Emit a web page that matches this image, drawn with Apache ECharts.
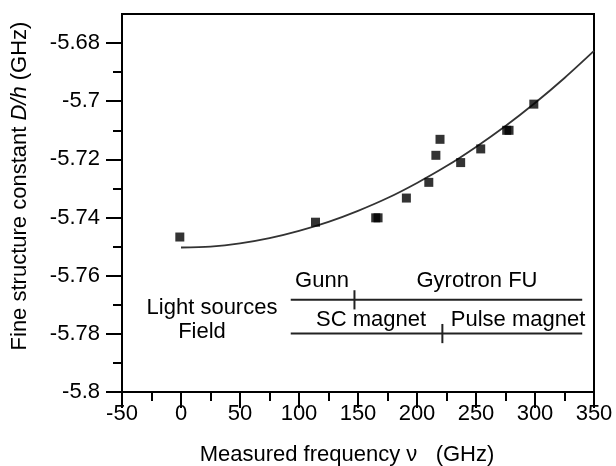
<!DOCTYPE html>
<html>
<head>
<meta charset="utf-8">
<script src="https://cdn.jsdelivr.net/npm/echarts@6/dist/echarts.min.js"></script>
<style>html,body{margin:0;padding:0;background:#fff}#c{width:616px;height:466px}</style>
</head>
<body>
<div id="c"></div>
<script>
// ---- data ----
const xTicks = [-50, 0, 50, 100, 150, 200, 250, 300, 350];
const yTicks = [-5.8, -5.78, -5.76, -5.74, -5.72, -5.7, -5.68];
const measuredFreq = [-1, 114, 165, 167, 191, 210, 216, 219.5, 237, 254, 276, 278, 299];
const measuredD = [-5.7467, -5.7416, -5.7401, -5.7401, -5.7333, -5.7279, -5.7186, -5.7131, -5.7211, -5.7164, -5.7100, -5.7100, -5.7010];
const fitFreq = [0, 25, 50, 75, 100, 125, 150, 175, 200, 225, 250, 275, 300, 325, 350];
const fitD = [-5.7503, -5.7500, -5.7489, -5.7471, -5.7446, -5.7415, -5.7377, -5.7333, -5.7281, -5.7223, -5.7157, -5.7085, -5.7006, -5.6920, -5.6827];
const sourceRange = [93, 340];
const sourceLevel = -5.7683;
const sourceSplit = 147;
const fieldRange = [93, 340];
const fieldLevel = -5.7799;
const fieldSplit = 221.5;

// ---- chart ----
const FONT = 'Liberation Sans, Arial, sans-serif';
const FS = 22;
const dividerHalf = 0.0033;
const zip = (a, b) => a.map((v, i) => [v, b[i]]);

const chart = echarts.init(document.getElementById('c'), null, {renderer: 'canvas'});
const axisCommon = {
  axisLine: {show: true, onZero: false, lineStyle: {color: '#000', width: 2}},
  axisTick: {show: true, inside: false, length: 16, lineStyle: {color: '#000', width: 2}},
  minorTick: {show: true, splitNumber: 2, length: 9, lineStyle: {color: '#000', width: 2}},
  splitLine: {show: false},
  minorSplitLine: {show: false}
};
const lineSeries = (data) => ({
  type: 'line', data: data, symbol: 'none', silent: true,
  lineStyle: {color: '#222', width: 2}, z: 3
});

chart.setOption({
  animation: false,
  backgroundColor: '#fff',
  grid: {left: 122, right: 22, top: 14, bottom: 74, show: true, borderColor: '#000', borderWidth: 2, backgroundColor: 'transparent'},
  xAxis: Object.assign({}, axisCommon, {
    type: 'value', min: -50, max: 350, interval: 50,
    axisTick: Object.assign({}, axisCommon.axisTick, {customValues: xTicks}),
    axisLabel: {customValues: xTicks, color: '#000', fontSize: FS, fontFamily: FONT, margin: 11}
  }),
  yAxis: Object.assign({}, axisCommon, {
    type: 'value', min: -5.8, max: -5.67, interval: 0.02,
    axisTick: Object.assign({}, axisCommon.axisTick, {customValues: yTicks}),
    axisLabel: {customValues: yTicks, color: '#000', fontSize: FS, fontFamily: FONT, margin: 22,
      formatter: v => String(+v.toFixed(2))}
  }),
  series: [
    {
      type: 'line', data: zip(fitFreq, fitD), smooth: 0.3, symbol: 'none',
      lineStyle: {color: '#333', width: 1.8}, z: 2
    },
    {
      type: 'scatter', data: zip(measuredFreq, measuredD), symbol: 'rect', symbolSize: 9,
      itemStyle: {color: '#000'}, z: 4
    },
    lineSeries(sourceRange.map(x => [x, sourceLevel])),
    lineSeries([[sourceSplit, sourceLevel - dividerHalf], [sourceSplit, sourceLevel + dividerHalf]]),
    lineSeries(fieldRange.map(x => [x, fieldLevel])),
    lineSeries([[fieldSplit, fieldLevel - dividerHalf], [fieldSplit, fieldLevel + dividerHalf]])
  ],
  graphic: [
    {type: 'text', x: 322, y: 281, style: {text: 'Gunn', fill: '#000', font: FS + 'px ' + FONT, align: 'center', verticalAlign: 'middle'}},
    {type: 'text', x: 477, y: 281, style: {text: 'Gyrotron FU', fill: '#000', font: FS + 'px ' + FONT, align: 'center', verticalAlign: 'middle'}},
    {type: 'text', x: 212, y: 308, style: {text: 'Light sources', fill: '#000', font: FS + 'px ' + FONT, align: 'center', verticalAlign: 'middle'}},
    {type: 'text', x: 371, y: 320, style: {text: 'SC magnet', fill: '#000', font: FS + 'px ' + FONT, align: 'center', verticalAlign: 'middle'}},
    {type: 'text', x: 518, y: 320, style: {text: 'Pulse magnet', fill: '#000', font: FS + 'px ' + FONT, align: 'center', verticalAlign: 'middle'}},
    {type: 'text', x: 202, y: 332, style: {text: 'Field', fill: '#000', font: FS + 'px ' + FONT, align: 'center', verticalAlign: 'middle'}},
    {type: 'text', x: 347, y: 455, style: {text: 'Measured frequency \u03bd   (GHz)', fill: '#000', font: FS + 'px ' + FONT, align: 'center', verticalAlign: 'middle'}},
    {type: 'text', x: 20, y: 186, rotation: Math.PI / 2, style: {
      text: 'Fine structure constant {i|D/h} (GHz)', fill: '#000', font: FS + 'px ' + FONT,
      align: 'center', verticalAlign: 'middle',
      rich: {i: {fontStyle: 'italic', fontSize: FS, fontFamily: FONT, fill: '#000'}}
    }}
  ]
});
</script>
</body>
</html>
